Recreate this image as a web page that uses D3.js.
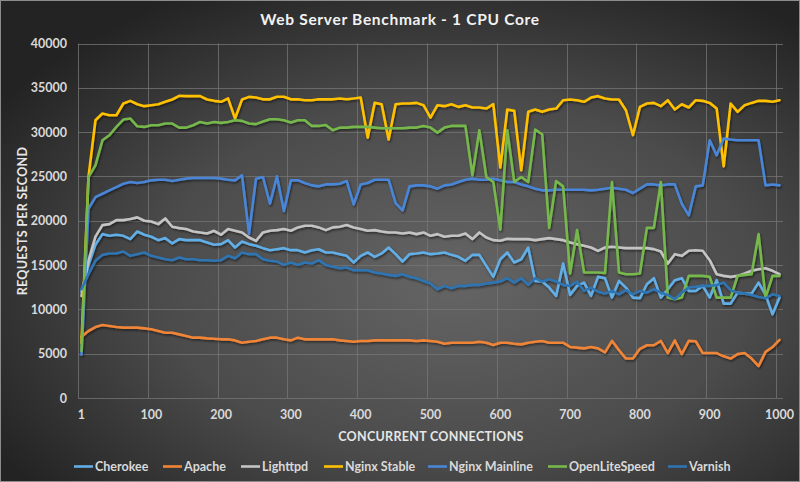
<!DOCTYPE html>
<html>
<head>
<meta charset="utf-8">
<script src="https://cdn.jsdelivr.net/npm/d3@7"></script>
<style>
  html, body { margin: 0; padding: 0; background: #2a2a2a; }
  svg { display: block; font-family: Lato, "Open Sans", sans-serif; }
</style>
</head>
<body>
<svg id="chart" width="800" height="482"></svg>
<script>
// connection counts on the category axis
const connections = [1].concat(d3.range(10, 1001, 10));
const tickLabels = [1, 100, 200, 300, 400, 500, 600, 700, 800, 900, 1000];
const yTicks = [0, 5000, 10000, 15000, 20000, 25000, 30000, 35000, 40000];

// requests per second
const cherokee = [12000,15000,17300,18490,18300,18420,18300,17930,18790,18420,18190,17810,18040,17440,17930,17810,17810,17810,17550,17290,17360,17810,16980,17660,17360,
  17170,16910,16680,16790,16910,16680,16680,16420,16680,16790,16420,16420,16230,16040,15290,16040,16420,15930,16310,16980,16230,15400,16230,16310,16420,
  16230,16310,16420,16150,15930,15480,16150,16150,14910,13670,15660,16420,15290,15660,16980,13210,13140,12460,11520,15170,11630,12650,13020,11520,13670,
  13520,11330,13210,12460,11330,11250,12840,13520,11330,12270,13290,13520,12080,12080,12650,11330,13290,10650,10650,11890,11780,11780,13020,11630,9440,11330];
const apache = [6900,7560,8010,8240,8120,8010,7940,7940,7940,7860,7750,7560,7370,7370,7180,7000,6810,6810,6730,6690,6620,6620,6500,6240,6350,
  6430,6620,6810,6810,6620,6500,6810,6620,6620,6620,6620,6620,6500,6430,6350,6430,6430,6500,6500,6500,6500,6500,6500,6430,6500,
  6430,6350,6130,6240,6240,6240,6240,6350,6240,5980,6240,6240,6130,6050,6240,6350,6430,6240,6240,6240,5760,5680,5600,5760,5600,
  5150,6450,5400,4450,4450,5550,5950,5950,6450,5070,6500,4950,6450,6400,5070,5070,5070,4700,4450,4950,5070,4450,3600,5200,5750,6550];
const lighttpd = [11520,15500,18200,19510,19620,20070,20070,20190,20380,20000,19920,19620,20260,19320,19170,19060,18790,18680,18570,18870,18420,19060,18870,18680,18110,
  17730,18680,18870,18940,19060,18870,19250,19430,19430,19250,18940,19250,19320,19510,19250,19060,18870,18940,18790,18680,18680,18570,18680,18490,18680,
  18300,18490,18190,18300,18300,18570,17930,18680,18110,17810,17740,17960,17930,17930,17930,17810,17930,18040,17930,17810,17550,17360,17170,16980,16600,
  16980,17060,16980,16910,16910,16910,16910,16800,16530,15170,16230,16040,16610,16680,16610,15550,13970,13780,13670,13780,14040,14350,14530,14650,14350,13970];
const nginxStable = [6200,24930,31340,32100,31900,31900,33230,33530,33150,32930,33040,33150,33420,33680,34100,34060,34060,34060,33680,33530,33420,33800,31530,33680,33980,
  33900,33700,33700,34000,34000,33700,33700,33600,33600,33700,33700,33700,33800,33700,33800,33900,29380,33300,33150,29160,33150,33230,33230,33300,33040,
  31640,33040,32930,33150,32850,33040,32780,32780,32660,33150,25990,32550,32400,25690,32290,32550,32290,32550,32660,33600,33680,33600,33420,33900,34060,
  33800,33680,33680,32470,29650,32850,33230,33300,32930,33600,32550,33150,32780,33600,33530,33300,32660,26140,33230,32290,33040,33300,33530,33530,33420,33600];
const nginxMainline = [4900,21350,22670,23050,23430,23800,24180,24370,24260,24370,24560,24630,24630,24480,24630,24750,24820,24820,24820,24820,24750,24630,24560,25120,18520,
  24750,24940,21920,25010,21090,24560,24560,24260,23990,23880,24100,24100,24180,24480,21840,24100,24260,24630,24630,24630,21990,21160,23880,23990,23990,
  23880,23620,23990,24100,24370,24630,24750,24630,24630,24750,24560,24370,24370,24100,23880,23620,23430,23430,23500,23500,23500,23500,23500,23430,23500,
  23620,23730,23620,23500,23130,23620,24100,24100,23990,24100,24100,21920,20600,23880,23990,29080,27380,29270,29160,29080,29080,29080,29080,23990,24100,23990];
const openLiteSpeed = [5300,24930,26250,29080,29650,30590,31420,31530,30660,30590,30780,30780,30970,30970,30510,30510,30780,31150,30970,31150,31040,31150,31340,31270,30970,
  30900,31200,31460,31460,31340,31080,31340,31340,30700,30700,30810,30210,30510,30510,30590,30590,30590,30510,30440,30440,30440,30440,30510,30510,30700,
  30510,29950,30510,30700,30700,30700,25120,30210,24930,24370,19000,30210,24370,24930,24370,30290,29760,19200,24480,23880,14040,18940,14160,14160,14160,
  14100,24370,14160,13970,13970,14040,19200,19200,24370,11330,11140,11330,13780,13780,13780,13670,11330,11330,11330,13780,13890,13970,18490,11330,13780,13780];
const varnish = [12270,13970,15480,16150,16310,16310,16530,16040,16230,16420,16040,15850,15660,15550,15850,15660,15660,15550,15550,15480,15550,16040,15780,16420,16230,
  16230,15660,15480,15400,15020,15290,15020,15290,15170,15550,15020,14800,14650,14720,14420,14420,14420,14160,14040,13890,13780,13970,13670,13520,13210,
  12910,12270,12650,12380,12650,12650,12760,12760,12910,13020,13140,13520,13020,13520,12760,13520,13140,13400,13140,12760,12650,13140,12080,12460,12000,
  11780,12080,11700,12160,11700,12080,11890,12270,11890,11630,11140,11890,12460,12540,12650,12650,12760,13020,12160,11890,11780,11630,11400,11250,11700,11520];

const seriesNames = ["Cherokee", "Apache", "Lighttpd", "Nginx Stable", "Nginx Mainline", "OpenLiteSpeed", "Varnish"];
const seriesValues = [cherokee, apache, lighttpd, nginxStable, nginxMainline, openLiteSpeed, varnish];
const seriesColors = ["#62aee6", "#f08538", "#c4c4c4", "#ffc000", "#4a86d8", "#76b84c", "#2f74b2"];

const svg = d3.select("#chart");
const W = 800, H = 482;
const plot = {left: 78, right: 783, top: 43.5, bottom: 398};

// background
const defs = svg.append("defs");
const bg = defs.append("radialGradient").attr("id", "bg")
  .attr("cx", "57%").attr("cy", "58%").attr("r", "68%");
bg.append("stop").attr("offset", "0%").attr("stop-color", "#656565");
bg.append("stop").attr("offset", "55%").attr("stop-color", "#4b4b4b");
bg.append("stop").attr("offset", "100%").attr("stop-color", "#232323");

const shadow = defs.append("filter").attr("id", "shadow")
  .attr("x", "-5%").attr("y", "-5%").attr("width", "110%").attr("height", "110%");
shadow.append("feDropShadow").attr("dx", 1).attr("dy", 1.5)
  .attr("stdDeviation", 1).attr("flood-color", "#000").attr("flood-opacity", 0.55);

svg.append("rect").attr("width", W).attr("height", H).attr("fill", "url(#bg)");
svg.append("rect").attr("x", 0.5).attr("y", 0.5).attr("width", W - 1).attr("height", H - 1)
  .attr("fill", "none").attr("stroke", "#8c8c8c").attr("stroke-width", 1);

// scales
const x = d3.scaleBand().domain(connections).range([plot.left, plot.right]);
const xc = d => x(d) + x.bandwidth() / 2;
const y = d3.scaleLinear().domain([0, 40000]).range([plot.bottom, plot.top]);

// gridlines
const grid = svg.append("g").attr("stroke", "#777").attr("stroke-opacity", 0.75).attr("stroke-width", 1);
grid.selectAll("line.h").data(yTicks).join("line")
  .attr("x1", plot.left).attr("x2", plot.right)
  .attr("y1", d => Math.round(y(d)) + 0.5).attr("y2", d => Math.round(y(d)) + 0.5);
grid.selectAll("line.v").data(tickLabels).join("line")
  .attr("x1", d => Math.round(x(d)) + 0.5).attr("x2", d => Math.round(x(d)) + 0.5)
  .attr("y1", plot.top).attr("y2", plot.bottom);

// axes (labels only)
const yAxis = svg.append("g").attr("transform", `translate(${plot.left},0)`)
  .call(d3.axisLeft(y).tickValues(yTicks).tickFormat(d3.format("d")).tickSize(0).tickPadding(11));
const xAxis = svg.append("g").attr("transform", `translate(0,${plot.bottom})`)
  .call(d3.axisBottom(x).tickValues(tickLabels).tickSize(0).tickPadding(12));
[xAxis, yAxis].forEach(a => {
  a.select(".domain").remove();
  a.selectAll("text").attr("fill", "#d9d9d9").attr("font-size", 12.5)
    .attr("font-weight", 700).attr("font-family", "Lato, sans-serif");
});

// lines
const line = d3.line().x((d, i) => xc(connections[i])).y(d => y(d));
svg.append("g").attr("filter", "url(#shadow)")
  .selectAll("path").data(seriesValues).join("path")
  .attr("d", d => line(d))
  .attr("fill", "none")
  .attr("stroke", (d, i) => seriesColors[i])
  .attr("stroke-width", 2.6)
  .attr("stroke-linejoin", "round")
  .attr("stroke-linecap", "round");

// titles
svg.append("text").attr("x", 400).attr("y", 25).attr("text-anchor", "middle")
  .attr("fill", "#f2f2f2").attr("font-size", 15.5).attr("font-weight", 700)
  .attr("letter-spacing", 0.7).text("Web Server Benchmark - 1 CPU Core");
svg.append("text").attr("x", 431).attr("y", 441).attr("text-anchor", "middle")
  .attr("fill", "#e6e6e6").attr("font-size", 12.5).attr("font-weight", 700)
  .attr("letter-spacing", 0.3).text("CONCURRENT CONNECTIONS");
svg.append("text").attr("transform", "translate(27,221) rotate(-90)").attr("text-anchor", "middle")
  .attr("fill", "#e6e6e6").attr("font-size", 12.5).attr("font-weight", 700)
  .attr("letter-spacing", 0.3).text("REQUESTS PER SECOND");

// legend
const legendX = [74, 163, 241, 324, 428, 548, 668];
const legend = svg.append("g").selectAll("g").data(seriesNames).join("g")
  .attr("transform", (d, i) => `translate(${legendX[i]},466.5)`);
legend.append("line").attr("x1", 0).attr("x2", 19)
  .attr("stroke", (d, i) => seriesColors[i]).attr("stroke-width", 2.6);
legend.append("text").attr("x", 21).attr("dy", "0.35em")
  .attr("fill", "#d9d9d9").attr("font-size", 12.5).attr("font-weight", 700)
  .text(d => d);
</script>
</body>
</html>
